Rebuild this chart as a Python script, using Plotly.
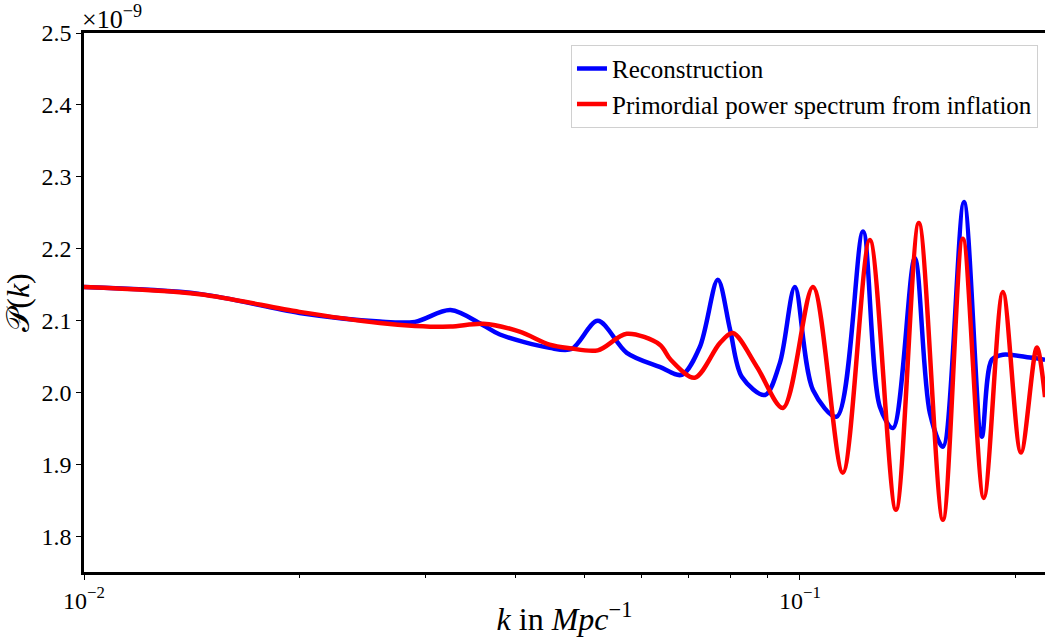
import plotly.graph_objects as go

# k in Mpc^-1, power spectrum in units of 1e-9
k_rec = [0.0100, 0.0145, 0.0200, 0.0259, 0.0290, 0.0325, 0.0361, 0.0381, 0.0447, 0.0480,
         0.0522, 0.0573, 0.0637, 0.0684, 0.0725, 0.0768, 0.0799, 0.0830, 0.0894, 0.0938,
         0.0984, 0.1043, 0.1126, 0.1225, 0.1293, 0.1349, 0.1447, 0.1519, 0.1584, 0.1695,
         0.1795, 0.1854, 0.1921, 0.2096, 0.2200]
p_rec = [2.147, 2.1375, 2.111, 2.099, 2.0986, 2.115, 2.094, 2.081, 2.0625, 2.061,
         2.100, 2.0556, 2.036, 2.025, 2.064, 2.157, 2.0875, 2.022, 1.997, 2.042,
         2.147, 2.004, 1.967, 2.224, 1.981, 1.951, 2.1875, 1.972, 1.925, 2.265,
         1.939, 2.046, 2.053, 2.049, 2.046]

k_inf = [0.0100, 0.0145, 0.0200, 0.0259, 0.0290, 0.0325, 0.0361, 0.0406, 0.0447, 0.0477,
         0.0522, 0.0573, 0.0637, 0.0660, 0.0713, 0.0773, 0.0806, 0.0871, 0.0947, 0.1043,
         0.1148, 0.1252, 0.1362, 0.1466, 0.1584, 0.1689, 0.1807, 0.1921, 0.2036, 0.2143,
         0.2200]
p_inf = [2.147, 2.137, 2.1125, 2.097, 2.093, 2.092, 2.096, 2.085, 2.067, 2.062,
         2.059, 2.082, 2.067, 2.046, 2.021, 2.069, 2.083, 2.036, 1.979, 2.147,
         1.889, 2.2125, 1.8375, 2.236, 1.8236, 2.214, 1.854, 2.140, 1.917, 2.063,
         1.994]

y_ticks = [1.8, 1.9, 2.0, 2.1, 2.2, 2.3, 2.4, 2.5]
x_ticks = [0.01, 0.1]
x_ticktext = ["10<sup>\u22122</sup>", "10<sup>\u22121</sup>"]
x_minor = [0.02, 0.03, 0.04, 0.05, 0.06, 0.07, 0.08, 0.09, 0.2]

font = "Liberation Serif"

fig = go.Figure()
fig.add_trace(go.Scatter(x=k_rec, y=p_rec, mode="lines", name="Reconstruction",
                         line=dict(color="#0000ff", width=4.5, shape="spline", smoothing=0.9)))
fig.add_trace(go.Scatter(x=k_inf, y=p_inf, mode="lines", name="Primordial power spectrum from inflation",
                         line=dict(color="#ff0000", width=4.5, shape="spline", smoothing=0.9)))

fig.update_layout(
    width=1045, height=637,
    margin=dict(l=84, r=0, t=33, b=65, autoexpand=False),
    paper_bgcolor="white", plot_bgcolor="white",
    font=dict(family=font, size=24, color="black"),
    showlegend=True,
    legend=dict(x=0.9927, y=0.978, xanchor="right", yanchor="top",
                bgcolor="rgba(255,255,255,0.8)", bordercolor="#d0d0d0", borderwidth=1,
                font=dict(family=font, size=25), tracegroupgap=0),
    xaxis=dict(type="log", range=[-2, -0.6576], tickvals=x_ticks, ticktext=x_ticktext,
               automargin=False,
               ticks="outside", ticklen=5, tickwidth=1, tickcolor="black",
               showline=True, linecolor="black", linewidth=2.5, mirror=True,
               showgrid=False, zeroline=False,
               tickfont=dict(family=font, size=24),
               minor=dict(tickvals=x_minor, ticks="outside", ticklen=3, tickwidth=1, tickcolor="black", showgrid=False),
               title=dict(text="<i>k</i> in <i>Mpc</i><sup>\u22121</sup>", font=dict(family=font, size=32), standoff=8)),
    yaxis=dict(range=[1.751, 2.5], tickvals=y_ticks, ticktext=[f"{v:.1f}" for v in y_ticks],
               automargin=False,
               ticks="outside", ticklen=5, tickwidth=1, tickcolor="black",
               showline=True, linecolor="black", linewidth=2.5,
               showgrid=False, zeroline=False,
               tickfont=dict(family=font, size=24),
               title=dict(text="\U0001D4AB(<i>k</i>)", font=dict(family=font, size=32), standoff=6)),
)

fig.add_annotation(x=0, y=1.0, xref="paper", yref="paper", xanchor="left", yanchor="bottom",
                   text="\u00d710<sup>\u22129</sup>", showarrow=False,
                   font=dict(family=font, size=26), xshift=-4, yshift=-3)

fig.write_html("out.html", config={"displayModeBar": False},
               post_script="document.body.style.margin='0';document.body.style.padding='0';")
